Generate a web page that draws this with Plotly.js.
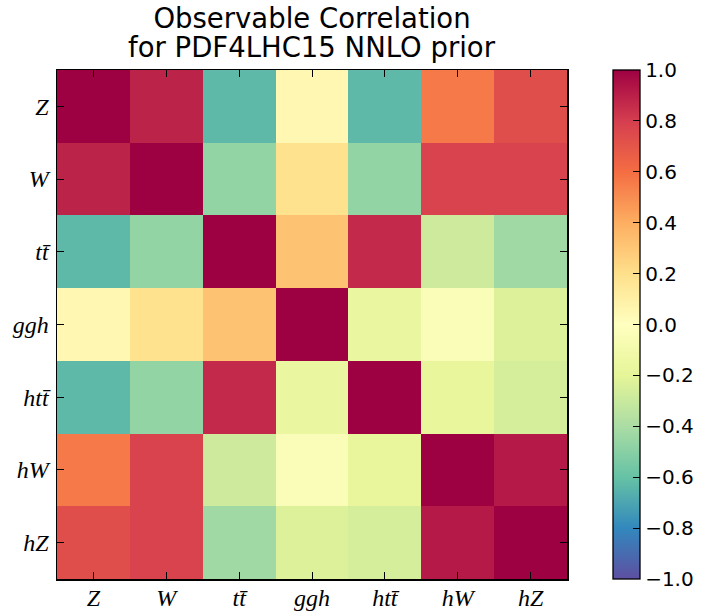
<!DOCTYPE html>
<html>
<head>
<meta charset="utf-8">
<script src="https://cdn.plot.ly/plotly-3.0.1.min.js"></script>
<style>html,body{margin:0;padding:0;background:#fff;}#chart{width:704px;height:613px;}</style>
</head>
<body>
<div id="chart"></div>
<script>
// Observables (rows top-to-bottom and columns left-to-right)
const observables = ["Z", "W", "tt\u0304", "ggh", "htt\u0304", "hW", "hZ"];

// Correlation matrix, one array per row (row order = observables)
const rowZ   = [1.00, 0.89, -0.63,  0.05, -0.63,  0.56,  0.73];
const rowW   = [0.89, 1.00, -0.47,  0.19, -0.47,  0.78,  0.78];
const rowTT  = [-0.63, -0.47, 1.00, 0.32,  0.87, -0.28, -0.43];
const rowGGH = [0.05, 0.19,  0.32,  1.00, -0.16, -0.04, -0.23];
const rowHTT = [-0.63, -0.47, 0.87, -0.16, 1.00, -0.18, -0.26];
const rowHW  = [0.56, 0.78, -0.28, -0.04, -0.18,  1.00,  0.92];
const rowHZ  = [0.73, 0.78, -0.43, -0.23, -0.26,  0.92,  1.00];

// Colorbar tick values
const cbarTicks = [-1.0, -0.8, -0.6, -0.4, -0.2, 0.0, 0.2, 0.4, 0.6, 0.8, 1.0];

const titleLine1 = "Observable Correlation";
const titleLine2 = "for PDF4LHC15 NNLO prior";

const zMatrix = [rowZ, rowW, rowTT, rowGGH, rowHTT, rowHW, rowHZ];
const labels = observables.map(s => "<i>" + s + "</i>");

// Spectral_r colormap
const spectralR = [
  [0.0, "#5e4fa2"], [0.1, "#3288bd"], [0.2, "#66c2a5"], [0.3, "#abdda4"],
  [0.4, "#e6f598"], [0.5, "#ffffbf"], [0.6, "#fee08b"], [0.7, "#fdae61"],
  [0.8, "#f46d43"], [0.9, "#d53e4f"], [1.0, "#9e0142"]
];

const W = 704, H = 613;
const mL = 57, mR = 137, mT = 70, mB = 34;
const plotW = W - mL - mR;
const plotH = H - mT - mB;

const trace = {
  type: "heatmap",
  z: zMatrix,
  x: labels,
  y: labels,
  zmin: -1, zmax: 1,
  colorscale: spectralR,
  zsmooth: false,
  colorbar: {
    x: (613 - mL) / plotW, xanchor: "left", xref: "paper",
    y: 0.5, yanchor: "middle",
    len: 1.0, lenmode: "fraction",
    thickness: 27, thicknessmode: "pixels",
    xpad: 0, ypad: 0,
    outlinewidth: 1.3, outlinecolor: "#000",
    tickvals: cbarTicks,
    tickformat: ".1f",
    ticks: "inside", ticklen: 7, tickwidth: 1, tickcolor: "#000",
    ticklabelstandoff: 3,
    tickfont: {family: "DejaVu Sans", size: 20, color: "#000"}
  }
};

const axisCommon = {
  type: "category",
  showgrid: false, zeroline: false,
  showline: true, linecolor: "#000", linewidth: 1.5,
  mirror: "ticks",
  ticks: "inside", ticklen: 7, tickwidth: 1, tickcolor: "#000",
  tickfont: {family: "Liberation Serif", size: 24, color: "#000"},
  fixedrange: true
};

const layout = {
  width: W, height: H,
  margin: {l: mL, r: mR, t: mT, b: mB, pad: 0, autoexpand: false},
  paper_bgcolor: "#fff", plot_bgcolor: "#fff",
  title: {
    text: titleLine1,
    font: {family: "DejaVu Sans", size: 27.5, color: "#000"},
    xref: "paper", x: 0.5, xanchor: "center",
    yref: "container", y: 1 - 18 / H, yanchor: "middle"
  },
  annotations: [{
    text: titleLine2,
    font: {family: "DejaVu Sans", size: 27.5, color: "#000"},
    xref: "paper", x: 0.5, xanchor: "center",
    yref: "paper", y: 1 + (mT - 47) / plotH, yanchor: "middle",
    showarrow: false
  }],
  xaxis: Object.assign({}, axisCommon, {side: "bottom", ticklabelstandoff: -3}),
  yaxis: Object.assign({}, axisCommon, {autorange: "reversed", ticklabelstandoff: 2}),
  showlegend: false
};

Plotly.newPlot("chart", [trace], layout, {displayModeBar: false, staticPlot: true});
</script>
</body>
</html>
